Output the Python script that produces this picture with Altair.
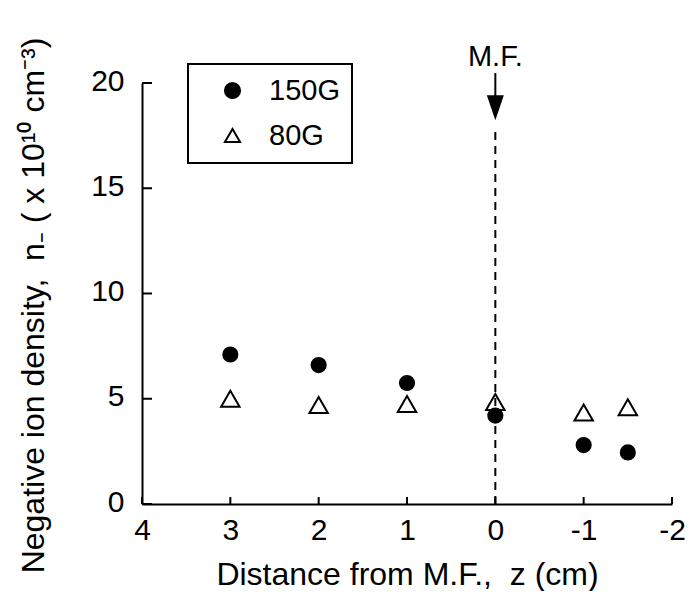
import altair as alt
import pandas as pd

# ---- data ----
z = [3, 2, 1, 0, -1, -1.5]
n_150G = [7.1, 6.6, 5.75, 4.2, 2.8, 2.45]
n_80G = [5.0, 4.7, 4.75, 4.85, 4.35, 4.6]
series = ["150G", "80G"]
x_ticks = [4, 3, 2, 1, 0, -1, -2]
y_ticks = [0, 5, 10, 15, 20]

# M.F. marker annotation (data units)
mf_label = ["M.F."]
mf_z = [0]
mf_label_y = [20.8]
mf_dash_top = [17.9]
mf_arrow_top = [20.47]
mf_arrow_base = [19.35]
mf_head_y = [18.83]

df = pd.DataFrame({
    "z": z * 2,
    "n": n_80G + n_150G,
    "series": ["80G"] * len(z) + ["150G"] * len(z),
})

W, H = 530, 421
FONT = "Liberation Sans"
NB = "\u00a0"

xscale = alt.Scale(domain=[-2, 4], reverse=True, nice=False)
yscale = alt.Scale(domain=[0, 20], nice=False)

xaxis = alt.Axis(
    values=x_ticks, title=f"Distance from M.F.,{NB}{NB}z (cm)",
    ticks=False, tickSize=0, grid=False,
    domainWidth=2, domainColor="black",
    labelFontSize=30, labelFont=FONT, labelColor="black",
    labelPadding=11, labelFlush=False, labelExpr="'' + datum.value",
    titleFontSize=32, titleFont=FONT, titleFontWeight="normal",
    titleColor="black", titleY=80, titleBaseline="alphabetic",
)
yaxis = alt.Axis(
    values=y_ticks,
    title=f"Negative ion density,{NB}{NB}n\u208b{NB}( x 10\u00b9\u2070 cm\u207b\u00b3)",
    ticks=False, tickSize=0, grid=False,
    domainWidth=2, domainColor="black",
    labelFontSize=30, labelFont=FONT, labelColor="black",
    labelPadding=18, labelOffset=-2, labelFlush=False, labelExpr="'' + datum.value",
    titleFontSize=32, titleFont=FONT, titleFontWeight="normal",
    titleColor="black", titleX=-99, titleY=222,
    titleBaseline="alphabetic",
)

legend = alt.Legend(
    title=None, orient="none", legendX=46, legendY=-19,
    strokeColor="black", padding=12, rowPadding=15,
    labelFontSize=29, labelFont=FONT, labelColor="black",
    symbolOffset=18, labelOffset=22,
    symbolStrokeColor="black", symbolStrokeWidth=2, symbolSize=230,
)

points = alt.Chart(df).mark_point(
    strokeWidth=2, opacity=1, fillOpacity=1, strokeOpacity=1
).encode(
    x=alt.X("z:Q", scale=xscale, axis=xaxis),
    y=alt.Y("n:Q", scale=yscale, axis=yaxis),
    shape=alt.Shape("series:N", scale=alt.Scale(domain=series, range=["circle", "triangle-up"]), legend=legend),
    fill=alt.Fill("series:N", scale=alt.Scale(domain=series, range=["black", "transparent"]), legend=legend),
    stroke=alt.Stroke("series:N", scale=alt.Scale(domain=series, range=["black", "black"]), legend=legend),
    size=alt.condition(alt.datum.series == "150G", alt.value(200), alt.value(340)),
)

tick_x = alt.Chart(pd.DataFrame({"t": x_ticks})).mark_rule(color="black", strokeWidth=2).encode(
    x=alt.X("t:Q", scale=xscale, axis=xaxis),
    y=alt.value(H), y2=alt.value(H - 7),
)
tick_y = alt.Chart(pd.DataFrame({"t": y_ticks})).mark_rule(color="black", strokeWidth=2).encode(
    y=alt.Y("t:Q", scale=yscale, axis=yaxis),
    x=alt.value(0), x2=alt.value(10),
)

mf = pd.DataFrame({
    "z": mf_z, "label": mf_label, "ly": mf_label_y,
    "dtop": mf_dash_top, "atop": mf_arrow_top, "abase": mf_arrow_base,
    "hy": mf_head_y, "zero": [0],
})
base_mf = alt.Chart(mf)
dash = base_mf.mark_rule(color="black", strokeWidth=2, strokeDash=[8, 6]).encode(
    x=alt.X("z:Q", scale=xscale, axis=xaxis),
    y=alt.Y("zero:Q", scale=yscale, axis=yaxis), y2="dtop:Q",
)
arrow_line = base_mf.mark_rule(color="black", strokeWidth=2).encode(
    x=alt.X("z:Q", scale=xscale, axis=xaxis),
    y=alt.Y("atop:Q", scale=yscale, axis=yaxis), y2="abase:Q",
)
arrow_head = base_mf.mark_point(
    shape="M-0.68,-1L0.68,-1L0,1Z", filled=True, color="black", size=625, opacity=1
).encode(
    x=alt.X("z:Q", scale=xscale, axis=xaxis),
    y=alt.Y("hy:Q", scale=yscale, axis=yaxis),
)
mf_text = base_mf.mark_text(
    font=FONT, fontSize=29, color="black", align="center", baseline="alphabetic"
).encode(
    x=alt.X("z:Q", scale=xscale, axis=xaxis),
    y=alt.Y("ly:Q", scale=yscale, axis=yaxis),
    text="label:N",
)

chart = alt.layer(
    dash, arrow_line, arrow_head, mf_text, tick_x, tick_y, points
).properties(
    width=W, height=H,
    autosize=alt.AutoSizeParams(type="none"),
    padding={"left": 134, "top": 75, "right": 14, "bottom": 87},
).configure_view(stroke=None).configure_legend(strokeWidth=2)

chart.save("out.html", embed_options={"renderer": "svg", "actions": False})
